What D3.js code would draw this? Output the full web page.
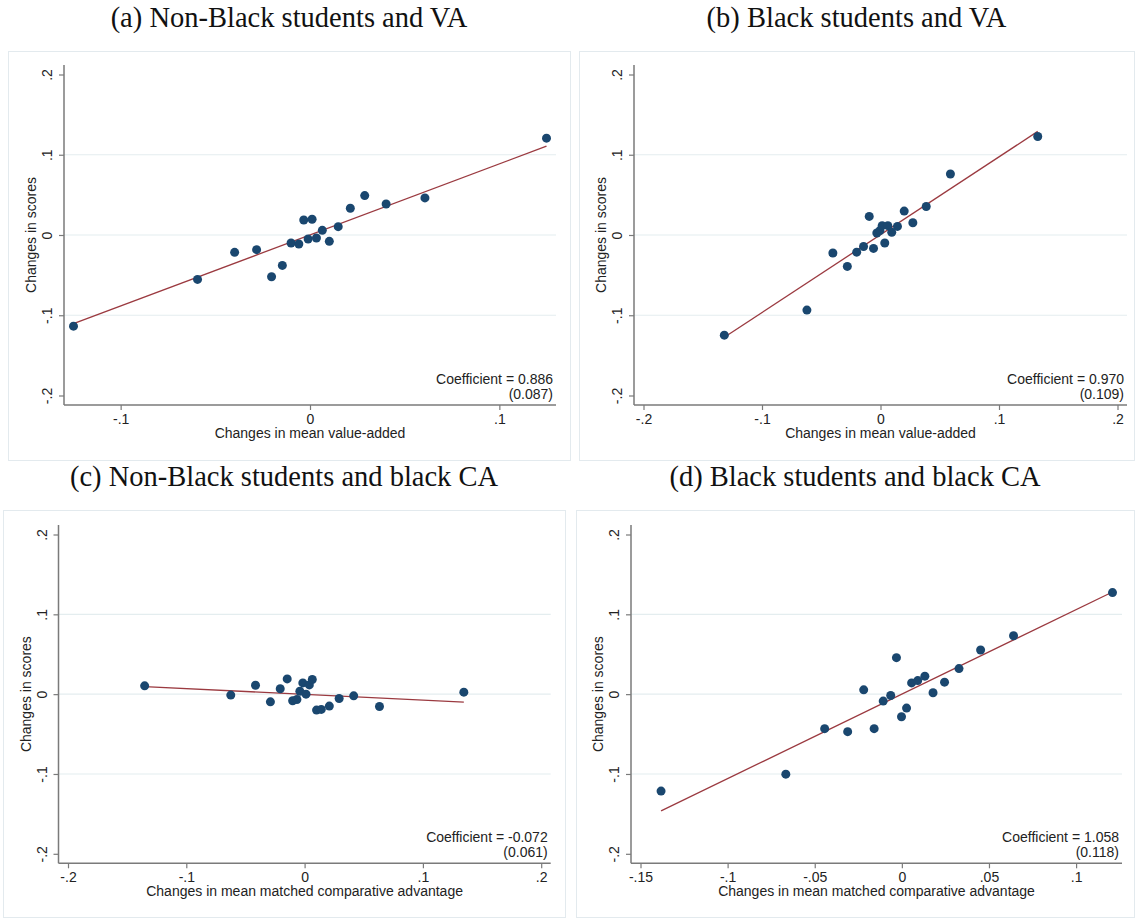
<!DOCTYPE html>
<html>
<head>
<meta charset="utf-8">
<script src="https://cdn.jsdelivr.net/npm/d3@7"></script>
<style>
  html, body { margin: 0; padding: 0; background: #ffffff; }
  svg { display: block; }
</style>
</head>
<body>
<svg id="chart" width="1135" height="918"></svg>
<script>
// ---- Data ----------------------------------------------------------------
const panelTitles = [
  "(a) Non-Black students and VA",
  "(b) Black students and VA",
  "(c) Non-Black students and black CA",
  "(d) Black students and black CA"
];
const xAxisTitles = [
  "Changes in mean value-added",
  "Changes in mean value-added",
  "Changes in mean matched comparative advantage",
  "Changes in mean matched comparative advantage"
];
const yAxisTitle = "Changes in scores";

const coefficients = [0.886, 0.970, -0.072, 1.058];
const standardErrors = [0.087, 0.109, 0.061, 0.118];

const yTickValues = [-0.2, -0.1, 0, 0.1, 0.2];
const yTickLabels = ["-.2", "-.1", "0", ".1", ".2"];

const xTickValuesA = [-0.1, 0, 0.1];
const xTickLabelsA = ["-.1", "0", ".1"];
const xTickValuesB = [-0.2, -0.1, 0, 0.1, 0.2];
const xTickLabelsB = ["-.2", "-.1", "0", ".1", ".2"];
const xTickValuesC = [-0.2, -0.1, 0, 0.1, 0.2];
const xTickLabelsC = ["-.2", "-.1", "0", ".1", ".2"];
const xTickValuesD = [-0.15, -0.1, -0.05, 0, 0.05, 0.1];
const xTickLabelsD = ["-.15", "-.1", "-.05", "0", ".05", ".1"];

// (a) Non-Black students, value-added
const nonBlackVA_x = [-0.1249,-0.0594,-0.0398,-0.0282,-0.0203,-0.0146,-0.0100,-0.0059,-0.0033,0.0011,-0.0010,0.0034,0.0065,0.0102,0.0149,0.0213,0.0289,0.0402,0.0607,0.1249];
const nonBlackVA_y = [-0.1136,-0.0553,-0.0216,-0.0183,-0.0520,-0.0379,-0.0100,-0.0112,0.0187,0.0196,-0.0050,-0.0037,0.0058,-0.0079,0.0104,0.0333,0.0491,0.0387,0.0462,0.1207];

// (b) Black students, value-added
const blackVA_x = [-0.1318,-0.0621,-0.0402,-0.0280,-0.0201,-0.0143,-0.0095,-0.0059,-0.0031,-0.0005,0.0014,0.0036,0.0062,0.0095,0.0143,0.0200,0.0273,0.0386,0.0590,0.1327];
const blackVA_y = [-0.1248,-0.0936,-0.0225,-0.0391,-0.0214,-0.0144,0.0232,-0.0167,0.0025,0.0055,0.0116,-0.0100,0.0116,0.0033,0.0107,0.0298,0.0152,0.0355,0.0760,0.1228];

// (c) Non-Black students, black comparative advantage
const nonBlackCA_x = [-0.1352,-0.0624,-0.0415,-0.0289,-0.0206,-0.0147,-0.0101,-0.0065,-0.0040,-0.0015,0.0012,0.0040,0.0065,0.0101,0.0141,0.0209,0.0292,0.0415,0.0633,0.1346];
const nonBlackCA_y = [0.0104,-0.0012,0.0112,-0.0096,0.0067,0.0191,-0.0083,-0.0067,0.0037,0.0141,0.0000,0.0116,0.0183,-0.0200,-0.0191,-0.0150,-0.0054,-0.0021,-0.0154,0.0025];

// (d) Black students, black comparative advantage
const blackCA_x = [-0.1382,-0.0666,-0.0443,-0.0311,-0.0219,-0.0159,-0.0107,-0.0064,-0.0031,-0.0002,0.0027,0.0056,0.0091,0.0132,0.0179,0.0245,0.0328,0.0452,0.0641,0.1209];
const blackCA_y = [-0.1214,-0.1002,-0.0432,-0.0470,0.0054,-0.0432,-0.0087,-0.0017,0.0457,-0.0283,-0.0175,0.0141,0.0170,0.0225,0.0017,0.0150,0.0320,0.0553,0.0732,0.1272];

// ---- Layout ----------------------------------------------------------------
// frame: outer panel box; axes: box spanned by the two axis lines
const panels = [
  { frame: [8, 51, 570, 460],   axes: [64, 65, 556, 405],     xs: nonBlackVA_x, ys: nonBlackVA_y, xt: xTickValuesA, xl: xTickLabelsA },
  { frame: [579, 51, 1134, 460], axes: [634, 65, 1127, 405],   xs: blackVA_x,    ys: blackVA_y,    xt: xTickValuesB, xl: xTickLabelsB },
  { frame: [3, 510, 565, 917],   axes: [58.5, 525, 550.7, 863.3], xs: nonBlackCA_x, ys: nonBlackCA_y, xt: xTickValuesC, xl: xTickLabelsC },
  { frame: [576, 510, 1134, 917], axes: [631, 525, 1122, 863.3], xs: blackCA_x,   ys: blackCA_y,    xt: xTickValuesD, xl: xTickLabelsD }
];

const MARGIN = 9.5;          // inner plot-region margin inside the axes
const SANS = "'Liberation Sans', Arial, sans-serif";
const SERIF = "'Liberation Serif', 'Times New Roman', serif";
const DOT = "#1a476f";
const FIT = "#9b3a40";
const AXIS = "#7a7a7a";
const GRID = "#e4edef";
const FRAME = "#e3eaee";
const TEXT = "#222222";

// Plain hyphen-minus, three decimals
const fmt3 = v => v.toFixed(3);

const svg = d3.select("#chart");

panels.forEach((p, i) => {
  const [fx0, fy0, fx1, fy1] = p.frame;
  const [ax0, ay0, ax1, ay1] = p.axes;
  const g = svg.append("g");

  // Panel frame
  g.append("rect")
    .attr("x", fx0 + 0.5).attr("y", fy0 + 0.5)
    .attr("width", fx1 - fx0).attr("height", fy1 - fy0)
    .attr("fill", "#ffffff").attr("stroke", FRAME).attr("stroke-width", 1);

  // Panel title
  svg.append("text")
    .attr("x", (fx0 + fx1) / 2).attr("y", fy0 - 24)
    .attr("text-anchor", "middle")
    .attr("font-family", SERIF).attr("font-size", 28.5)
    .attr("fill", "#111")
    .text(panelTitles[i]);

  // Scales: x spans the data and tick range, y is fixed
  const xExtent = d3.extent(p.xs.concat(p.xt));
  const x = d3.scaleLinear().domain(xExtent).range([ax0 + MARGIN, ax1 - MARGIN]);
  const y = d3.scaleLinear().domain([-0.2, 0.2]).range([ay1 - MARGIN, ay0 + MARGIN]);

  // Horizontal gridlines at the interior y ticks
  g.append("g").selectAll("line")
    .data(yTickValues.filter(v => Math.abs(v) < 0.15))
    .join("line")
    .attr("x1", ax0).attr("x2", ax1)
    .attr("y1", d => y(d)).attr("y2", d => y(d))
    .attr("stroke", GRID).attr("stroke-width", 1.2);

  // Y axis
  const yAxis = d3.axisLeft(y)
    .tickValues(yTickValues)
    .tickFormat((d, k) => yTickLabels[k])
    .tickSize(5).tickSizeOuter(0);
  const yg = g.append("g").attr("transform", `translate(${ax0},0)`).call(yAxis);
  yg.select(".domain").remove();
  yg.selectAll(".tick line").attr("stroke", AXIS).attr("stroke-width", 1.2);
  yg.selectAll(".tick text")
    .attr("x", null).attr("dy", null)
    .attr("text-anchor", "middle")
    .attr("transform", "translate(-12,0) rotate(-90)")
    .attr("font-family", SANS).attr("font-size", 14).attr("fill", TEXT);

  // X axis
  const xAxis = d3.axisBottom(x)
    .tickValues(p.xt)
    .tickFormat((d, k) => p.xl[k])
    .tickSize(5).tickSizeOuter(0);
  const xg = g.append("g").attr("transform", `translate(0,${ay1})`).call(xAxis);
  xg.select(".domain").remove();
  xg.selectAll(".tick line").attr("stroke", AXIS).attr("stroke-width", 1.2);
  xg.selectAll(".tick text")
    .attr("y", 19).attr("dy", null)
    .attr("font-family", SANS).attr("font-size", 14).attr("fill", TEXT);

  // Axis lines spanning the whole plot region
  g.append("line")
    .attr("x1", ax0).attr("x2", ax0).attr("y1", ay0).attr("y2", ay1)
    .attr("stroke", AXIS).attr("stroke-width", 1.5);
  g.append("line")
    .attr("x1", ax0).attr("x2", ax1).attr("y1", ay1).attr("y2", ay1)
    .attr("stroke", AXIS).attr("stroke-width", 1.5);

  // Axis titles
  g.append("text")
    .attr("x", (ax0 + ax1) / 2).attr("y", ay1 + 33)
    .attr("text-anchor", "middle")
    .attr("font-family", SANS).attr("font-size", 14).attr("fill", TEXT)
    .text(xAxisTitles[i]);
  g.append("text")
    .attr("transform", `translate(${ax0 - 28},${(ay0 + ay1) / 2}) rotate(-90)`)
    .attr("text-anchor", "middle")
    .attr("font-family", SANS).attr("font-size", 14).attr("fill", TEXT)
    .text(yAxisTitle);

  // Fitted line: stated slope through the means of the points
  const b = coefficients[i];
  const a = d3.mean(p.ys) - b * d3.mean(p.xs);
  const [dx0, dx1] = d3.extent(p.xs);
  const fitLine = d3.line().x(d => x(d)).y(d => y(a + b * d));
  g.append("path")
    .datum([dx0, dx1])
    .attr("d", fitLine)
    .attr("fill", "none").attr("stroke", FIT).attr("stroke-width", 1.3);

  // Points
  const pts = p.xs.map((v, k) => [v, p.ys[k]]);
  g.append("g").selectAll("circle")
    .data(pts)
    .join("circle")
    .attr("cx", d => x(d[0])).attr("cy", d => y(d[1]))
    .attr("r", 4.5)
    .attr("fill", DOT);

  // Coefficient note
  const note = g.append("text")
    .attr("text-anchor", "end")
    .attr("font-family", SANS).attr("font-size", 14).attr("fill", TEXT);
  note.append("tspan").attr("x", ax1 - 3).attr("y", ay1 - 21)
    .text(`Coefficient = ${fmt3(coefficients[i])}`);
  note.append("tspan").attr("x", ax1 - 3).attr("y", ay1 - 6)
    .text(`(${fmt3(standardErrors[i])})`);
});
</script>
</body>
</html>
